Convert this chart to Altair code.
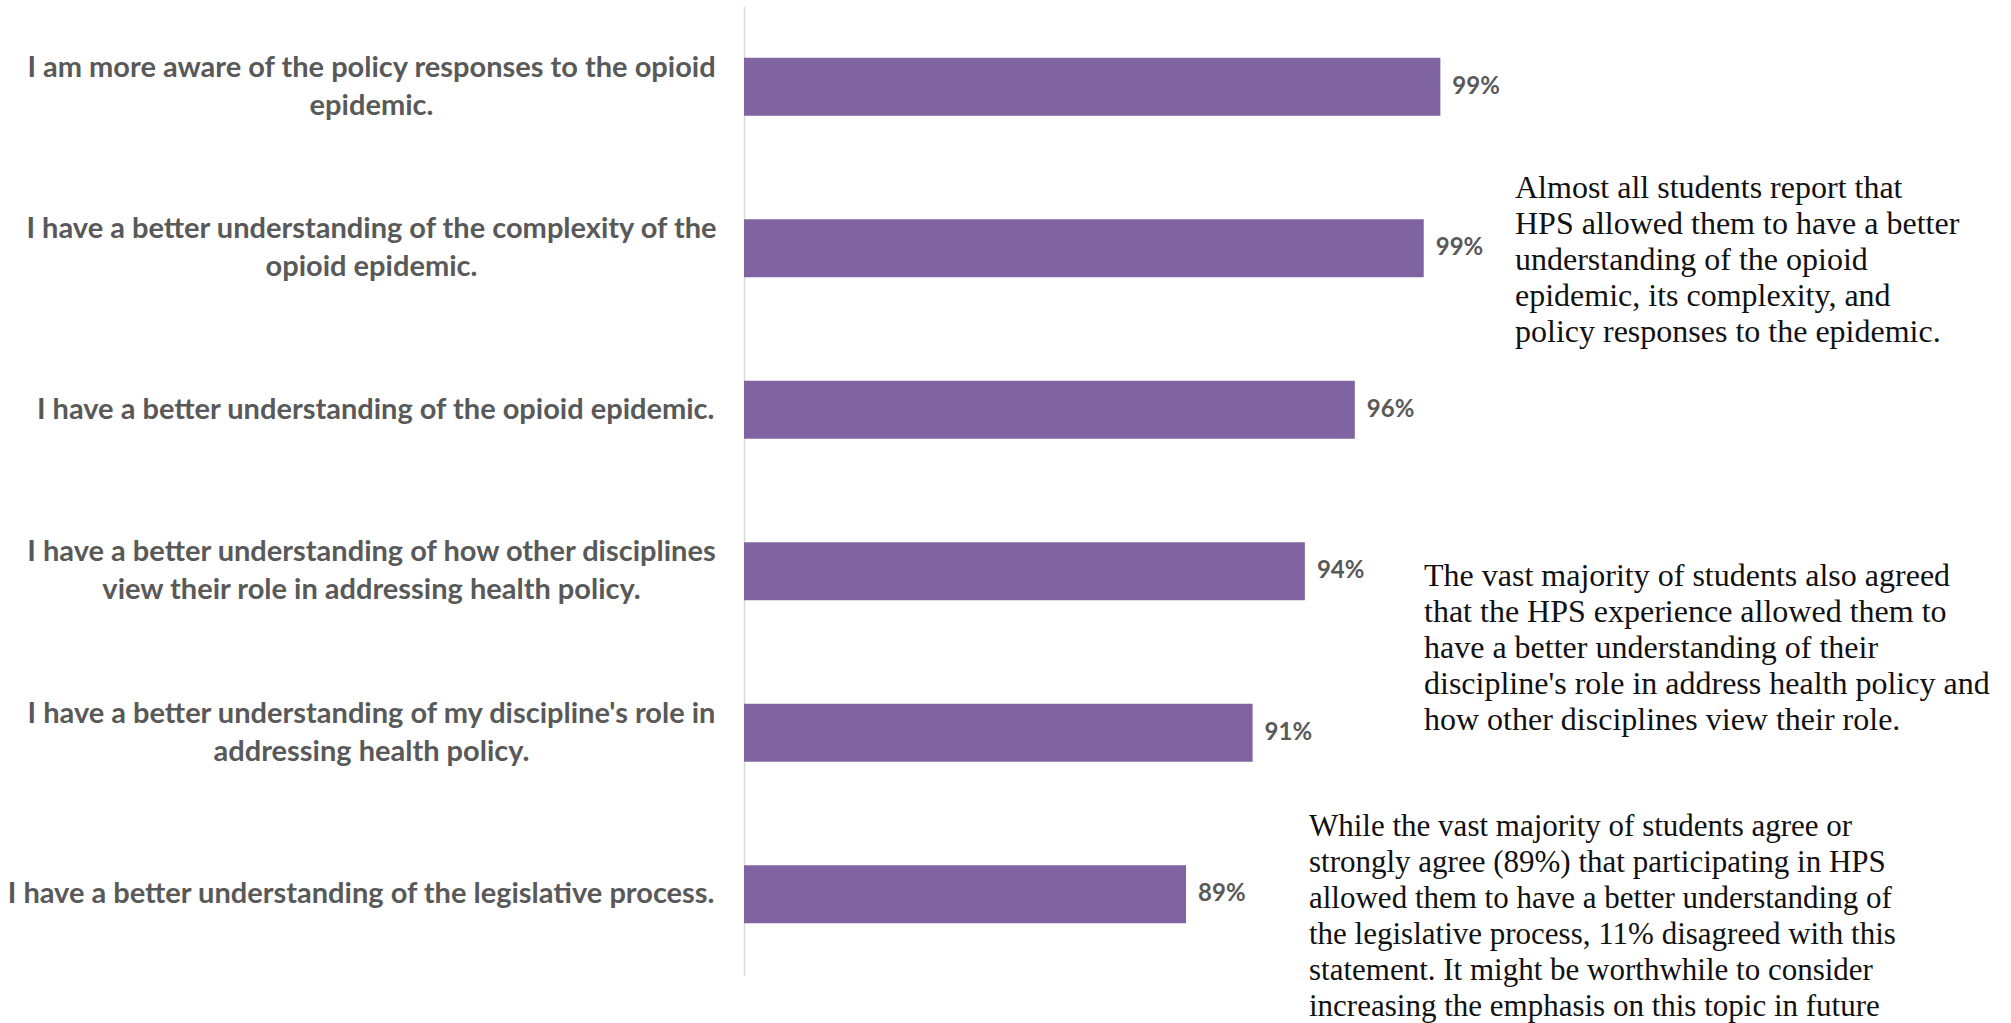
import altair as alt
import pandas as pd

# ---- data ----
statements = [
    "I am more aware of the policy responses to the opioid\nepidemic.",
    "I have a better understanding of the complexity of the\nopioid epidemic.",
    "I have a better understanding of the opioid epidemic.",
    "I have a better understanding of how other disciplines\nview their role in addressing health policy.",
    "I have a better understanding of my discipline's role in\naddressing health policy.",
    "I have a better understanding of the legislative process.",
]
agree_share = [99.3, 98.6, 95.7, 93.6, 91.4, 88.6]
share_labels = ["99%", "99%", "96%", "94%", "91%", "89%"]

comment_1 = [
    "Almost all students report that",
    "HPS allowed them to have a better",
    "understanding of the opioid",
    "epidemic, its complexity, and",
    "policy responses to the epidemic.",
]
comment_2 = [
    "The vast majority of students also agreed",
    "that the HPS experience allowed them to",
    "have a better understanding of their",
    "discipline's role in address health policy and",
    "how other disciplines view their role.",
]
comment_3 = [
    "While the vast majority of students agree or",
    "strongly agree (89%) that participating in HPS",
    "allowed them to have a better understanding of",
    "the legislative process, 11% disagreed with this",
    "statement. It might be worthwhile to consider",
    "increasing the emphasis on this topic in future",
]

df = pd.DataFrame({"statement": statements, "share": agree_share, "label": share_labels})

W, H = 713, 969
LABEL_GRAY = "#595959"
BAR_PURPLE = "#8064A2"
MULTI = "indexof(datum.value, '\\n') >= 0"

y_enc = alt.Y(
    "statement:N",
    sort=statements,
    scale=alt.Scale(paddingInner=0.64, paddingOuter=0.32),
    axis=alt.Axis(
        title=None,
        labelExpr="split(datum.label, '\\n')",
        labelAlign={"condition": {"test": MULTI, "value": "center"}, "value": "right"},
        labelBaseline="middle",
        labelOffset={"condition": {"test": MULTI, "value": -19}, "value": 0},
        labelPadding={"condition": {"test": MULTI, "value": 373}, "value": 30},
        ticks=False,
        tickSize=0,
        labelFont="Lato",
        labelFontWeight="bold",
        labelFontSize=29,
        labelColor=LABEL_GRAY,
        labelLineHeight=38,
        labelLimit=1000,
        domainColor="#D9D9D9",
        domainWidth=1.5,
        grid=False,
    ),
)
x_enc = alt.X("share:Q", scale=alt.Scale(domain=[70, 100], zero=False), axis=None)

bars = alt.Chart(df).mark_bar(color=BAR_PURPLE).encode(
    x=x_enc, x2=alt.X2(datum=70), y=y_enc
)

values = alt.Chart(df).mark_text(
    align="left", baseline="middle", dx=12,
    font="Lato", fontWeight="bold", fontSize=24, color=LABEL_GRAY,
).encode(x=x_enc, y=y_enc, text="label:N")


def note(lines, xpx, ypx, size):
    return alt.Chart(alt.Data(values=[{"note": "\n".join(lines)}])).mark_text(
        align="left", baseline="alphabetic", lineBreak="\n",
        font="Liberation Serif", fontSize=size, lineHeight=36, color="#111111",
    ).encode(x=alt.value(xpx), y=alt.value(ypx), text="note:N")


chart = alt.layer(
    bars,
    values,
    note(comment_1, 771, 192, 32),
    note(comment_2, 680, 580, 32),
    note(comment_3, 565, 830, 31),
).properties(
    width=W,
    height=H,
    padding={"left": 744, "top": 6, "right": 554, "bottom": 48},
    autosize=alt.AutoSizeParams(type="none"),
    background="white",
).configure_view(stroke=None)

chart.save("out.html", embed_options={"renderer": "svg", "actions": False})
